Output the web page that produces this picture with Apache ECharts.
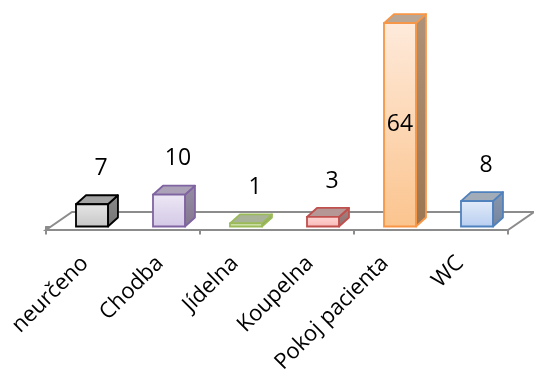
<!DOCTYPE html>
<html>
<head>
<meta charset="utf-8">
<script src="https://cdn.jsdelivr.net/npm/echarts@6/dist/echarts.min.js"></script>
<style>
  html, body { margin: 0; padding: 0; background: #fff; }
  #chart { width: 534px; height: 376px; }
</style>
</head>
<body>
<div id="chart"></div>
<script>
// Incidents by location
const categories = ['neurčeno', 'Chodba', 'Jídelna', 'Koupelna', 'Pokoj pacienta', 'WC'];
const counts = [7, 10, 1, 3, 64, 8];

// Per-bar colours: edge, front gradient (top, bottom), top face, side face (top, bottom)
const barEdge = ['#000000', '#8064a2', '#9bbb59', '#c0504d', '#f79646', '#4f81bd'];
const barFrontTop = ['#e6e6e6', '#ede8f5', '#e3eecd', '#fdd9d8', '#feeadb', '#e3ecf9'];
const barFrontBottom = ['#c6c6c6', '#d3c8e6', '#cfe0aa', '#f8b6b4', '#fbc48e', '#b7cdf0'];
const barTopFace = ['#a3a3a3', '#aca2b8', '#a9b397', '#b59896', '#b9a694', '#a2abb8'];
const barSideTop = ['#8a8a8a', '#968ca3', '#94a07e', '#a58584', '#ae9278', '#8a98ae'];
const barSideBottom = ['#747474', '#82778f', '#7f8a69', '#8f6f6e', '#9c7652', '#74849d'];

const FONT = '"Open Sans", "Noto Sans", sans-serif';
const FLOOR_OFFSET = 3.5;   // floor front edge sits just in front of the bar bases
const maxCount = Math.max(...counts);

const chart = echarts.init(document.getElementById('chart'), null, { renderer: 'canvas' });

function renderFloor(params, api) {
  const cs = params.coordSys;
  const fy = cs.y + cs.height + FLOOR_OFFSET;
  const by = fy - 18;
  const x0 = cs.x, x1 = cs.x + cs.width;
  const ddx = 26;
  return {
    type: 'polygon',
    shape: { points: [[x0, fy], [x1, fy], [x1 + ddx, by], [x0 + ddx, by]] },
    style: { fill: '#ffffff', stroke: '#8c8c8c', lineWidth: 2 }
  };
}

function renderBar(params, api) {
  const i = api.value(0);
  const v = api.value(1);
  const topPt = api.coord([i, v]);
  const basePt = api.coord([i, 0]);
  const band = api.size([1, 0])[0];
  const w = band * 0.415;
  const shift = band * 0.097;
  const dx = band * 0.13;
  const dy = -9;
  const x0 = topPt[0] + shift - w / 2;
  const x1 = x0 + w;
  const yt = topPt[1];
  const yb = basePt[1];
  const edge = barEdge[i];
  const lw = 1.8;
  const isMax = v === maxCount;
  const children = [
    {
      type: 'polygon',
      shape: { points: [[x1, yt], [x1 + dx, yt + dy], [x1 + dx, yb + dy], [x1, yb]] },
      style: {
        fill: new echarts.graphic.LinearGradient(0, 0, 0, 1, [
          { offset: 0, color: barSideTop[i] },
          { offset: 1, color: barSideBottom[i] }
        ]),
        stroke: edge, lineWidth: lw, lineJoin: 'round'
      }
    },
    {
      type: 'polygon',
      shape: { points: [[x0, yt], [x1, yt], [x1 + dx, yt + dy], [x0 + dx, yt + dy]] },
      style: { fill: barTopFace[i], stroke: edge, lineWidth: lw, lineJoin: 'round' }
    },
    {
      type: 'rect',
      shape: { x: x0, y: yt, width: w, height: yb - yt },
      style: {
        fill: new echarts.graphic.LinearGradient(0, 0, 0, 1, [
          { offset: 0, color: barFrontTop[i] },
          { offset: 1, color: barFrontBottom[i] }
        ]),
        stroke: edge, lineWidth: lw
      }
    },
    {
      type: 'text',
      style: {
        text: String(v),
        x: isMax ? x0 + w / 2 : x0 + w / 2 + 9,
        y: isMax ? (yt + yb) / 2 : yt - 36,
        align: 'center',
        verticalAlign: 'middle',
        fill: '#000000',
        font: '23px ' + FONT
      }
    }
  ];
  return { type: 'group', children };
}

chart.setOption({
  animation: false,
  backgroundColor: '#ffffff',
  grid: [
    // plot area: bars and floor
    { left: 46, right: 26, top: 4, bottom: 149.5 },
    // category names, spaced as seen through the tilted floor
    { left: 47.5, right: 36.5, top: 4, bottom: 149.5 }
  ],
  xAxis: [
    {
      type: 'category',
      gridIndex: 0,
      data: categories,
      offset: FLOOR_OFFSET,
      axisLine: { show: true, lineStyle: { color: '#8c8c8c', width: 2 } },
      axisTick: { show: true, length: 8, lineStyle: { color: '#8c8c8c', width: 2 } },
      axisLabel: { show: false }
    },
    {
      type: 'category',
      gridIndex: 1,
      data: categories,
      offset: FLOOR_OFFSET,
      axisLine: { show: false },
      axisTick: { show: false },
      axisLabel: {
        rotate: 45,
        margin: 38,
        color: '#000000',
        fontSize: 22,
        fontFamily: FONT
      }
    }
  ],
  yAxis: [
    { type: 'value', gridIndex: 0, min: 0, max: 70, show: false },
    { type: 'value', gridIndex: 1, min: 0, max: 70, show: false }
  ],
  series: [
    {
      type: 'custom',
      name: 'floor',
      xAxisIndex: 0,
      yAxisIndex: 0,
      renderItem: renderFloor,
      data: [[0, 0]],
      clip: false,
      silent: true,
      z: 1
    },
    {
      type: 'custom',
      name: 'Počet',
      xAxisIndex: 0,
      yAxisIndex: 0,
      renderItem: renderBar,
      data: counts.map((c, i) => [i, c]),
      encode: { x: 0, y: 1 },
      clip: false,
      z: 3
    }
  ]
});
</script>
</body>
</html>
